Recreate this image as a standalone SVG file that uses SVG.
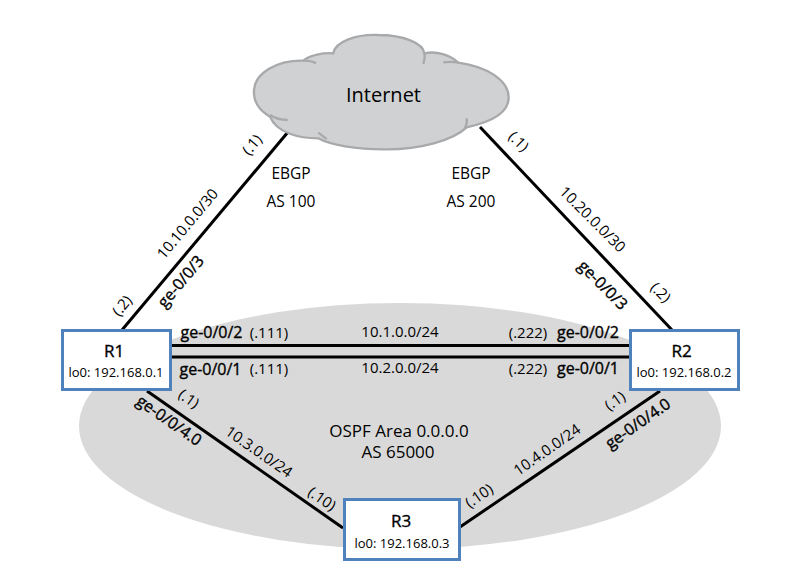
<svg xmlns="http://www.w3.org/2000/svg" width="802" height="581" viewBox="0 0 802 581">
<style>
text{font-family:"Open Sans","Liberation Sans",sans-serif;fill:#000;text-anchor:middle;font-size:15px}
.b{font-size:16px;stroke:#000;stroke-width:.35px}
.h{font-size:17px;stroke:#000;stroke-width:.35px}
.s{font-size:13px}
.e{font-size:15.500px}
.a{font-size:17px}
.l{stroke:#000;stroke-width:3;fill:none}
.n{fill:#fff;stroke:#4f81bd;stroke-width:3}
.c{stroke:#a8a9ab;stroke-width:7;fill:none}
</style>
<rect width="802" height="581" fill="#fff"/>
<ellipse id="area" cx="400" cy="426" rx="321" ry="123" fill="#d9d9d9"/>
<g id="connectors">
<line class="l" x1="288" y1="132" x2="122" y2="330"/>
<line class="l" x1="480" y1="127" x2="672" y2="330"/>
<line class="l" x1="170" y1="345.500" x2="630" y2="345.500"/>
<line class="l" x1="170" y1="357" x2="630" y2="357"/>
<line class="l" x1="147" y1="391" x2="343" y2="528"/>
<line class="l" x1="660" y1="391" x2="460" y2="527"/>
</g>
<g id="internet">
<g transform="translate(240 20) scale(.3333)">
<path d="M280,100C285,65 350,42 415,45C490,45 550,70 553,100C590,92 630,105 655,128C740,140 808,180 806,235C805,275 760,305 680,322C640,360 540,390 430,388C350,388 270,375 235,355C180,355 110,340 90,290C55,270 40,240 42,210C45,160 110,120 190,122C210,105 250,98 280,100Z" fill="#d0d1d3" stroke="#a8a9ab" stroke-width="7"/>
<path class="c" d="M190,122C205,122 220,125 228,130M553,100C556,110 553,120 550,132M655,128C640,125 625,125 610,127M90,285C105,295 125,300 143,300M680,295C682,305 680,315 675,325M235,338C245,345 250,350 260,357"/>
</g>
<text x="383.500" y="102" style="font-size:20px">Internet</text>
</g>
<g id="r1"><rect class="n" x="62.500" y="330.500" width="108" height="59"/><text class="h" x="114" y="357">R1</text><text class="s" x="116" y="377">lo0: 192.168.0.1</text></g>
<g id="r2"><rect class="n" x="630.500" y="330.500" width="108" height="59"/><text class="h" x="681.500" y="357">R2</text><text class="s" x="684" y="377">lo0: 192.168.0.2</text></g>
<g id="r3"><rect class="n" x="344.500" y="499.500" width="115" height="60"/><text class="h" x="401" y="527">R3</text><text class="s" x="402" y="548">lo0: 192.168.0.3</text></g>
<g id="labels">
<text class="e" x="291" y="179">EBGP</text>
<text class="e" x="291" y="207">AS 100</text>
<text class="e" x="471" y="179">EBGP</text>
<text class="e" x="471" y="207">AS 200</text>
<text x="256" y="148" transform="rotate(-50 256 148)">(.1)</text>
<text x="515" y="145" transform="rotate(45 515 145)">(.1)</text>
<text x="191.500" y="227" transform="rotate(-50 191.500 227)">10.10.0.0/30</text>
<text x="589" y="223" transform="rotate(45 589 223)">10.20.0.0/30</text>
<text class="b" x="185" y="285" transform="rotate(-50 185 285)">ge-0/0/3</text>
<text class="b" x="599" y="289" transform="rotate(45 599 289)">ge-0/0/3</text>
<text x="126" y="309" transform="rotate(-50 126 309)">(.2)</text>
<text x="657" y="296" transform="rotate(45 657 296)">(.2)</text>
<text class="b" x="211.500" y="338">ge-0/0/2</text>
<text x="269" y="338">(.111)</text>
<text class="b" x="210.500" y="375">ge-0/0/1</text>
<text x="269" y="374">(.111)</text>
<text x="400" y="337">10.1.0.0/24</text>
<text x="400" y="373">10.2.0.0/24</text>
<text x="528" y="338">(.222)</text>
<text class="b" x="588" y="338">ge-0/0/2</text>
<text x="528" y="374">(.222)</text>
<text class="b" x="588" y="374">ge-0/0/1</text>
<text x="186" y="403" transform="rotate(35 186 403)">(.1)</text>
<text class="b" x="166" y="425" transform="rotate(35 166 425)">ge-0/0/4.0</text>
<text x="256" y="456" transform="rotate(35 256 456)">10.3.0.0/24</text>
<text x="319" y="503" transform="rotate(35 319 503)">(.10)</text>
<text x="618" y="405" transform="rotate(-35 618 405)">(.1)</text>
<text class="b" x="641" y="428" transform="rotate(-35 641 428)">ge-0/0/4.0</text>
<text x="550" y="454" transform="rotate(-35 550 454)">10.4.0.0/24</text>
<text x="482" y="500" transform="rotate(-35 482 500)">(.10)</text>
<text class="a" x="399" y="437">OSPF Area 0.0.0.0</text>
<text class="a" x="398" y="458">AS 65000</text>
</g>
</svg>
